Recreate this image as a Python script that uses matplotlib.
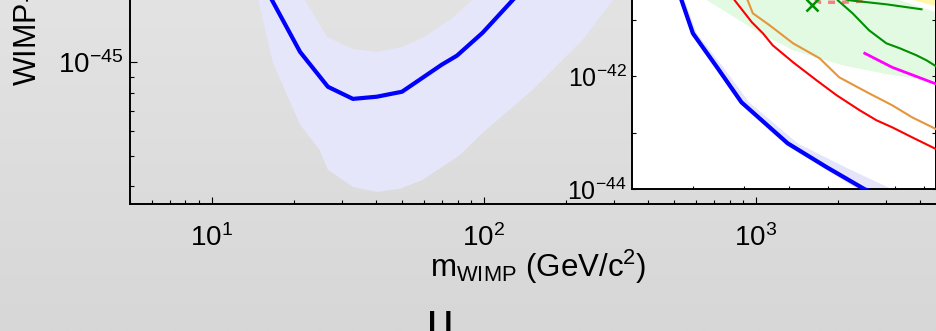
import numpy as np
import matplotlib
matplotlib.use('Agg')
import matplotlib.pyplot as plt
from matplotlib.colors import LinearSegmentedColormap
from matplotlib.ticker import NullFormatter, NullLocator

plt.rcParams['font.family'] = ['Liberation Sans', 'DejaVu Sans']
plt.rcParams['mathtext.fontset'] = 'custom'
plt.rcParams['mathtext.rm'] = 'Liberation Sans'
plt.rcParams['mathtext.it'] = 'Liberation Sans:italic'
plt.rcParams['mathtext.bf'] = 'Liberation Sans:bold'

# limit curve: WIMP mass (GeV/c^2) and log10 cross section (cm^2)
limit_mass = [5.5, 5.58, 5.8, 6.0, 6.45, 6.94, 7.97, 8.96, 10.04, 12.5, 16.6, 21.1,
              26.7, 33, 40.4, 50, 70, 79.6, 99, 128, 300, 1000, 5000]
limit_log = [-39.5, -40.0, -40.655, -41.239, -41.84, -42.46, -43.186, -43.61, -44.0,
             -44.45, -44.798, -44.966, -45.078, -45.117, -45.110, -45.094, -45.007,
             -44.978, -44.904, -44.798, -44.46, -43.98, -43.34]

# expected sensitivity band, upper and lower edges
band_hi_mass = [5.5, 5.62, 5.85, 6.07, 6.57, 7.10, 8.21, 9.47, 10.9, 12.8, 16.0, 22.0,
                26.5, 32.7, 40.4, 50.0, 59.7, 75.0, 91.0, 150, 300, 1000, 5000]
band_hi_log = [-39.5, -40.0, -40.655, -41.24, -41.84, -42.46, -43.186, -43.61, -44.0,
               -44.37, -44.6, -44.8, -44.917, -44.956, -44.966, -44.95, -44.92, -44.863,
               -44.798, -44.6, -44.3, -43.8, -43.15]
band_lo_mass = [5.5, 5.57, 5.79, 5.99, 6.44, 6.93, 7.95, 8.94, 10.0, 10.6, 12.5, 14.8,
                16.75, 21.1, 24.9, 26.7, 33, 40.4, 49.1, 59.7, 81.7, 99, 151, 231, 298,
                1000, 5000]
band_lo_log = [-39.5, -40.0, -40.70, -41.28, -41.88, -42.50, -43.23, -43.65, -44.06,
               -44.27, -44.6, -44.798, -45.0, -45.2, -45.281, -45.345, -45.4, -45.416,
               -45.406, -45.377, -45.297, -45.226, -45.088, -44.927, -44.798, -44.27, -43.57]

# inset: other experiments (low mass region)
red_mass = [6.45, 6.80, 7.16, 7.40, 7.62, 8.10, 8.69, 9.23, 9.89, 10.40, 10.90, 11.57, 12.37, 12.6]
red_log = [-40.0, -40.655, -41.044, -41.239, -41.451, -41.752, -42.071, -42.336, -42.602,
           -42.779, -42.903, -43.080, -43.274, -43.32]
orange_mass = [6.7, 7.07, 7.18, 7.55, 8.10, 8.77, 9.30, 10.11, 10.90, 11.57, 12.37, 12.6]
orange_log = [-40.0, -40.655, -40.885, -41.097, -41.416, -41.681, -42.018, -42.283, -42.513,
              -42.726, -42.92, -42.98]
green_mass = [9.0, 9.26, 9.68, 10.17, 10.71, 11.15, 11.72, 12.08, 12.43]
green_log = [-40.3, -40.655, -40.885, -41.186, -41.416, -41.504, -41.628, -41.717, -41.823]
green2_mass = [9.0, 9.59, 10.71, 11.9]
green2_log = [-40.55, -40.655, -40.726, -40.814]
magenta_mass = [10.04, 10.9, 12.37, 12.6]
magenta_log = [-41.593, -41.841, -42.124, -42.16]
salmon_mass = [8.5, 8.77, 9.4, 9.98, 10.3]
salmon_log = [-40.55, -40.69, -40.69, -40.67, -40.55]
cross_mass = [8.57]
cross_log = [-40.743]
gband_lo_mass = [6.0, 6.26, 7.34, 8.10, 9.39, 10.90, 12.37, 13.0]
gband_lo_log = [-40.2, -40.655, -41.239, -41.54, -41.805, -41.982, -42.07, -42.1]
gband_hi_mass = [13.0, 12.43, 11.15, 9.5, 7.0]
gband_hi_log = [-40.95, -40.867, -40.655, -40.2, -39.8]
yellow_mass = [11.3, 11.64, 12.43, 13.0, 13.0, 11.0]
yellow_log = [-40.5, -40.655, -40.76, -40.8, -39.8, -39.8]


def sig(v):
    return 10.0 ** np.asarray(v)


band_mass = band_hi_mass + band_lo_mass[::-1]
band_log = band_hi_log + band_lo_log[::-1]

fig = plt.figure(figsize=(9.37, 3.31), dpi=100)

# slide-like grey gradient behind everything
bg = fig.add_axes([0, 0, 1, 1], zorder=-10)
bg.imshow(np.linspace(0, 1, 256).reshape(-1, 1), aspect='auto', origin='upper',
          extent=[0, 1, 0, 1],
          cmap=LinearSegmentedColormap.from_list('bg', ['#e3e3e3', '#d7d7d7']))
bg.axis('off')

# main axes (extends beyond the visible crop)
ax = fig.add_axes([0.1387, 0.3828, 0.871, 1.368])
ax.set_facecolor('none')
ax.set_xscale('log')
ax.set_yscale('log')
ax.fill(band_mass, sig(band_log), color='lavender', lw=0, zorder=1)
ax.plot(limit_mass, sig(limit_log), color='#0000ff', lw=3, zorder=3)
ax.set_xlim(5, 5000)
ax.set_ylim(3.5e-46, 1e-44)
ax.tick_params(which='both', direction='in', top=True, right=True, labelsize=20)
ax.tick_params(which='major', length=5, width=0.8)
ax.tick_params(which='minor', length=3, width=0.8)
ax.tick_params(axis='x', pad=14)
ax.tick_params(axis='y', pad=5)
ax.yaxis.set_minor_formatter(NullFormatter())
ax.xaxis.set_minor_formatter(NullFormatter())
for sp in ax.spines.values():
    sp.set_linewidth(1.4)

# inset
ins = fig.add_axes([0.6745, 0.4281, 0.3245, 0.6828], zorder=5)
ins.set_facecolor('white')
ins.set_xscale('log')
ins.set_yscale('log')
ins.fill(gband_lo_mass + gband_hi_mass, sig(gband_lo_log + gband_hi_log),
         color='#e2fae2', lw=0, zorder=1)
ins.fill(yellow_mass, sig(yellow_log), color='#fff6a8', lw=0, zorder=1)
ins.fill(band_mass, sig(band_log), color='#e4e4fa', lw=0, zorder=2)
ins.plot(salmon_mass, sig(salmon_log), color='#f48080', lw=2.5, ls=(0, (2, 2)), zorder=3)
ins.plot(green2_mass, sig(green2_log), color='#009000', lw=1.5, zorder=3)
ins.plot(green_mass, sig(green_log), color='#009000', lw=1.5, zorder=3)
ins.plot(orange_mass, sig(orange_log), color='#e6953a', lw=1.5, zorder=3)
ins.plot(red_mass, sig(red_log), color='#ff0000', lw=1.5, zorder=3)
ins.plot(magenta_mass, sig(magenta_log), color='#ff00ff', lw=2, zorder=3)
ins.plot(cross_mass, sig(cross_log), 'x', color='#009000', ms=9, mew=1.8, zorder=4)
ins.plot(limit_mass, sig(limit_log), color='#0000ff', lw=3, zorder=4)
ins.set_xlim(5, 12.43)
ins.set_ylim(1e-44, 1e-40)
ins.set_xticks([6, 7, 8, 9, 10, 11, 12])
ins.set_xticklabels([])
ins.xaxis.set_minor_locator(NullLocator())
ins.set_yticks([1e-44, 1e-43, 1e-42, 1e-41, 1e-40])
ins.set_yticklabels([r'$10^{-44}$', '', r'$10^{-42}$', '', r'$10^{-40}$'])
ins.yaxis.set_minor_formatter(NullFormatter())
ins.tick_params(which='both', direction='in', top=True, right=True, labelsize=18)
ins.tick_params(axis='x', length=2.5, width=0.8)
ins.tick_params(axis='y', which='major', length=3, width=0.8, pad=4)
ins.tick_params(axis='y', which='minor', length=1.2, width=0.5)
for sp in ins.spines.values():
    sp.set_linewidth(1.4)

fig.text(0.574, 0.163, r'm$_{\mathrm{WIMP}}$ (GeV/c$^{2}$)', ha='center', va='baseline',
         fontsize=22.5)
fig.text(27 / 937, 0.740, r'WIMP-nucleon cross section (cm$^{2}$)', rotation=90,
         ha='center', va='bottom', fontsize=22)
fig.text(428 / 937, 0.0, 'I I', ha='left', va='baseline', fontsize=21, fontweight='bold')

fig.savefig('out.png', dpi=100)
